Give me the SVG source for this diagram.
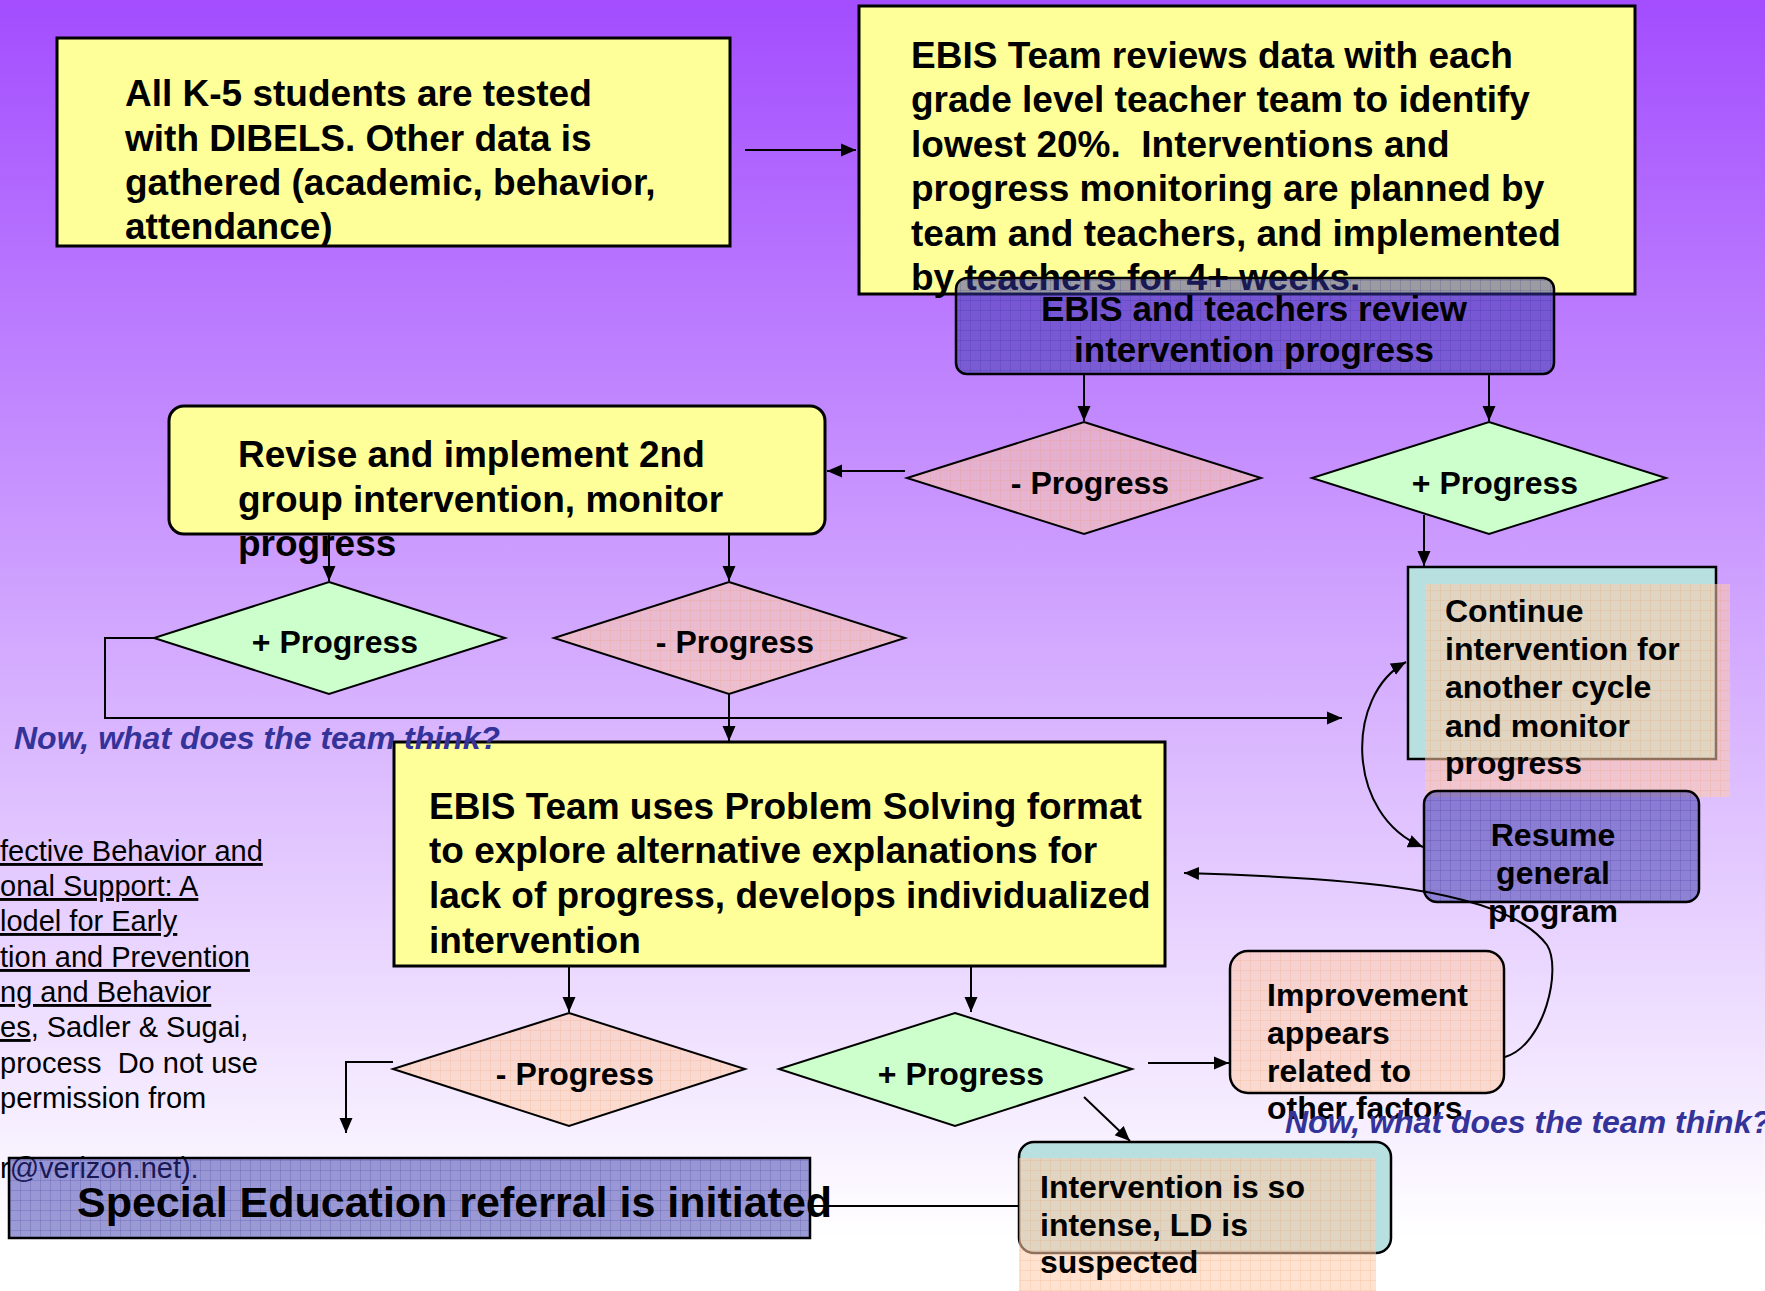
<svg xmlns="http://www.w3.org/2000/svg" width="1765" height="1291" viewBox="0 0 1765 1291">
<defs>
<linearGradient id="bg" x1="0" y1="0" x2="0" y2="1240" gradientUnits="userSpaceOnUse">
<stop offset="0" stop-color="#A34DFE"/>
<stop offset="1" stop-color="#FFFFFF"/>
</linearGradient>
<pattern id="gridB" width="10" height="10" patternUnits="userSpaceOnUse"><path d="M10,0 L0,0 0,10" fill="none" stroke="#26268a" stroke-width="1" stroke-opacity="0.35"/></pattern>
<pattern id="gridP" width="10" height="10" patternUnits="userSpaceOnUse"><path d="M10,0 L0,0 0,10" fill="none" stroke="#F09050" stroke-width="1" stroke-opacity="0.3"/></pattern>
<marker id="ah" markerUnits="userSpaceOnUse" markerWidth="16" markerHeight="14" refX="15" refY="7" orient="auto-start-reverse"><path d="M0,0.5 L15,7 L0,13.5 z" fill="#000"/></marker>
<style>
.yel{fill:#FFFF99;stroke:#000;stroke-width:3}
.grn{fill:#CCFFCC;stroke:#000;stroke-width:2}
.pch{fill:#FFCCAA;fill-opacity:.55}
.pgrid{fill:url(#gridP)}
.blu{fill:#3333AA;fill-opacity:.49}
.bgrid{fill:url(#gridB)}
.edge{fill:none;stroke:#000;stroke-width:2.5}
.cyan{fill:#B8E0E0;stroke:#000;stroke-width:2.5}
.t37{font-family:"Liberation Sans",Arial,sans-serif;font-weight:bold;font-size:37px;fill:#000}
.t35{font-family:"Liberation Sans",Arial,sans-serif;font-weight:bold;font-size:35px;fill:#000}
.t32{font-family:"Liberation Sans",Arial,sans-serif;font-weight:bold;font-size:32px;fill:#000}
.t43{font-family:"Liberation Sans",Arial,sans-serif;font-weight:bold;font-size:43px;fill:#000}
.ask{font-family:"Liberation Sans",Arial,sans-serif;font-weight:bold;font-style:italic;font-size:32px;fill:#333399}
.cite{font-family:"Liberation Sans",Arial,sans-serif;font-size:29px;fill:#000}
.u{text-decoration:underline}
.c{text-anchor:middle}
.ln{fill:none;stroke:#000;stroke-width:2}
.arr{fill:none;stroke:#000;stroke-width:2;marker-end:url(#ah)}
</style>
</defs>
<rect x="0" y="0" width="1765" height="1291" fill="url(#bg)"/>

<g id="citation">
<text class="cite" x="0" y="861"><tspan class="u">fective Behavior and</tspan></text>
<text class="cite" x="0" y="896"><tspan class="u">onal Support: A</tspan></text>
<text class="cite" x="0" y="931"><tspan class="u">lodel for Early</tspan></text>
<text class="cite" x="0" y="967"><tspan class="u">tion and Prevention</tspan></text>
<text class="cite" x="0" y="1002"><tspan class="u">ng and Behavior</tspan></text>
<text class="cite" x="0" y="1037"><tspan class="u">es</tspan>, Sadler &amp; Sugai,</text>
<text class="cite" x="0" y="1073" xml:space="preserve">process  Do not use</text>
<text class="cite" x="0" y="1108">permission from</text>
<text class="cite" x="0" y="1178">r@verizon.net).</text>
</g>

<g id="n-tested">
<rect class="yel" x="57" y="38" width="673" height="208"/>
<text class="t37" x="125" y="106">All K-5 students are tested</text>
<text class="t37" x="125" y="151">with DIBELS. Other data is</text>
<text class="t37" x="125" y="195">gathered (academic, behavior,</text>
<text class="t37" x="125" y="239">attendance)</text>
</g>

<g id="n-review-data">
<rect class="yel" x="859" y="6" width="776" height="288"/>
<text class="t37" x="911" y="68">EBIS Team reviews data with each</text>
<text class="t37" x="911" y="112">grade level teacher team to identify</text>
<text class="t37" x="911" y="157" xml:space="preserve">lowest 20%.  Interventions and</text>
<text class="t37" x="911" y="201">progress monitoring are planned by</text>
<text class="t37" x="911" y="246">team and teachers, and implemented</text>
<text class="t37" x="911" y="290">by teachers for 4+ weeks.</text>
</g>

<g id="n-review-progress">
<rect class="blu" x="956" y="278" width="598" height="96" rx="11"/>
<rect class="bgrid" x="956" y="278" width="598" height="96" rx="11"/>
<rect class="edge" x="956" y="278" width="598" height="96" rx="11"/>
<text class="t35 c" x="1254" y="321">EBIS and teachers review</text>
<text class="t35 c" x="1254" y="362">intervention progress</text>
</g>

<g id="d-minus-1">
<polygon class="pch" points="1084,422 1261,478 1084,534 907,478"/>
<polygon class="pgrid" points="1084,422 1261,478 1084,534 907,478"/>
<polygon class="ln" points="1084,422 1261,478 1084,534 907,478"/>
<text class="t32 c" x="1090" y="494">- Progress</text>
</g>

<g id="d-plus-1">
<polygon class="grn" points="1489,422 1666,478 1489,534 1312,478"/>
<text class="t32 c" x="1495" y="494">+ Progress</text>
</g>

<g id="n-revise">
<rect class="yel" x="169" y="406" width="656" height="128" rx="15"/>
<text class="t37" x="238" y="467">Revise and implement 2nd</text>
<text class="t37" x="238" y="512">group intervention, monitor</text>
<text class="t37" x="238" y="556">progress</text>
</g>

<g id="d-plus-2">
<polygon class="grn" points="329,582 505,638 329,694 154,638"/>
<text class="t32 c" x="335" y="653">+ Progress</text>
</g>

<g id="d-minus-2">
<polygon class="pch" points="729,582 905,638 729,694 554,638"/>
<polygon class="pgrid" points="729,582 905,638 729,694 554,638"/>
<polygon class="ln" points="729,582 905,638 729,694 554,638"/>
<text class="t32 c" x="735" y="653">- Progress</text>
</g>

<g id="n-continue">
<rect class="cyan" x="1408" y="567" width="308" height="192"/>
<rect class="pch" x="1425" y="584" width="305" height="213"/>
<rect class="pgrid" x="1425" y="584" width="305" height="213"/>
<text class="t32" x="1445" y="622">Continue</text>
<text class="t32" x="1445" y="660">intervention for</text>
<text class="t32" x="1445" y="698">another cycle</text>
<text class="t32" x="1445" y="737">and monitor</text>
<text class="t32" x="1445" y="774">progress</text>
</g>

<g id="n-resume">
<rect class="blu" x="1424" y="791" width="275" height="111" rx="13"/>
<rect class="bgrid" x="1424" y="791" width="275" height="111" rx="13"/>
<rect class="edge" x="1424" y="791" width="275" height="111" rx="13"/>
<text class="t32 c" x="1553" y="846">Resume</text>
<text class="t32 c" x="1553" y="884">general</text>
<text class="t32 c" x="1553" y="922">program</text>
</g>

<g id="n-problem-solving">
<rect class="yel" x="394" y="742" width="771" height="224"/>
<text class="t37" x="429" y="819">EBIS Team uses Problem Solving format</text>
<text class="t37" x="429" y="863">to explore alternative explanations for</text>
<text class="t37" x="429" y="908">lack of progress, develops individualized</text>
<text class="t37" x="429" y="953">intervention</text>
</g>

<g id="d-minus-3">
<polygon class="pch" points="569,1013 745,1069 569,1126 393,1069"/>
<polygon class="pgrid" points="569,1013 745,1069 569,1126 393,1069"/>
<polygon class="ln" points="569,1013 745,1069 569,1126 393,1069"/>
<text class="t32 c" x="575" y="1085">- Progress</text>
</g>

<g id="d-plus-3">
<polygon class="grn" points="955,1013 1132,1069 955,1126 779,1069"/>
<text class="t32 c" x="961" y="1085">+ Progress</text>
</g>

<g id="n-improvement">
<rect class="pch" x="1230" y="951" width="274" height="142" rx="18"/>
<rect class="pgrid" x="1230" y="951" width="274" height="142" rx="18"/>
<rect class="edge" x="1230" y="951" width="274" height="142" rx="18"/>
<text class="t32" x="1267" y="1006">Improvement</text>
<text class="t32" x="1267" y="1044">appears</text>
<text class="t32" x="1267" y="1082">related to</text>
<text class="t32" x="1267" y="1119">other factors</text>
</g>

<g id="n-special-ed">
<rect class="blu" x="9" y="1158" width="801" height="80"/>
<rect class="bgrid" x="9" y="1158" width="801" height="80"/>
<rect class="edge" x="9" y="1158" width="801" height="80"/>
<text class="t43" x="77" y="1217">Special Education referral is initiated</text>
</g>

<g id="n-intense">
<rect class="cyan" x="1019" y="1142" width="372" height="111" rx="15"/>
<rect class="pch" x="1019" y="1158" width="357" height="133"/>
<rect class="pgrid" x="1019" y="1158" width="357" height="133"/>
<text class="t32" x="1040" y="1198">Intervention is so</text>
<text class="t32" x="1040" y="1236">intense, LD is</text>
<text class="t32" x="1040" y="1273">suspected</text>
</g>

<g id="notes">
<text class="ask" x="14" y="749">Now, what does the team think?</text>
<text class="ask" x="1285" y="1133">Now, what does the team think?</text>
</g>

<g id="connectors">
<path class="arr" d="M745,150 H856"/>
<path class="arr" d="M1084,374 V421"/>
<path class="arr" d="M1489,374 V421"/>
<path class="arr" d="M905,471 H827"/>
<path class="arr" d="M1424,515 V566"/>
<path class="arr" d="M329,534 V581"/>
<path class="arr" d="M729,534 V581"/>
<path class="arr" d="M154,638 H105 V718 H1342"/>
<path class="arr" d="M729,694 V741"/>
<path class="arr" d="M569,966 V1012"/>
<path class="arr" d="M971,966 V1012"/>
<path class="arr" d="M393,1062 H346 V1133"/>
<path class="arr" d="M1148,1063 H1229"/>
<path class="arr" d="M1084,1097 L1130,1141"/>
<path class="ln" d="M812,1206 H1019"/>
<path class="ln" d="M1406,662 C1345,695 1345,815 1423,847" marker-start="url(#ah)" marker-end="url(#ah)"/>
<path class="ln" d="M1505,1057 C1545,1045 1562,968 1547,945 C1505,888 1350,878 1184,873" marker-end="url(#ah)"/>
</g>
</svg>
